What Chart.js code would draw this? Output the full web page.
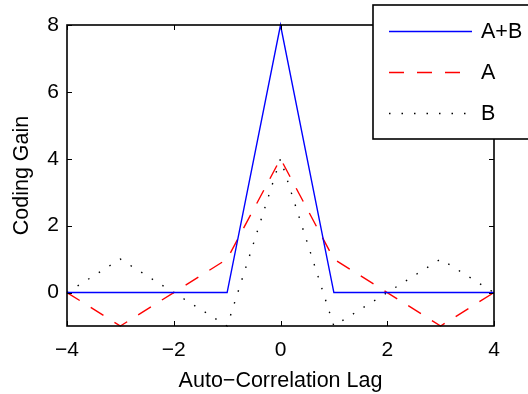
<!DOCTYPE html>
<html>
<head>
<meta charset="utf-8">
<script src="https://cdn.jsdelivr.net/npm/chart.js@4/dist/chart.umd.min.js"></script>
<style>
  html, body { margin: 0; padding: 0; background: #fff; }
  #wrap { width: 528px; height: 394px; }
</style>
</head>
<body>
<div id="wrap"><canvas id="myChart" width="528" height="394"></canvas></div>
<script>
  const lags = [-4, -3, -2, -1, 0, 1, 2, 3, 4];
  const gainSum = [0, 0, 0, 0, 8, 0, 0, 0, 0];
  const gainA = [0, -1, 0, 1, 4, 1, 0, -1, 0];
  const gainB = [0, 1, 0, -1, 4, -1, 0, 1, 0];
  const xTicks = [-4, -2, 0, 2, 4];
  const yTicks = [0, 2, 4, 6, 8];

  const FONT = 'Liberation Sans, Arial, Helvetica, sans-serif';
  const minus = v => String(v).replace('-', '\u2212');
  const pts = ys => lags.map((x, i) => ({ x: x, y: ys[i] }));

  // box round the axes, with inward tick marks on all four sides
  const frame = {
    id: 'frame',
    afterDatasetsDraw(chart) {
      const { ctx, chartArea: a, scales } = chart;
      ctx.save();
      ctx.strokeStyle = '#000';
      ctx.lineWidth = 1.6;
      ctx.strokeRect(a.left, a.top, a.right - a.left, a.bottom - a.top);
      ctx.lineWidth = 1;
      ctx.beginPath();
      xTicks.forEach(v => {
        const px = Math.round(scales.x.getPixelForValue(v)) + 0.5;
        ctx.moveTo(px, a.bottom); ctx.lineTo(px, a.bottom - 5);
        ctx.moveTo(px, a.top); ctx.lineTo(px, a.top + 5);
      });
      yTicks.forEach(v => {
        const py = Math.round(scales.y.getPixelForValue(v)) + 0.5;
        ctx.moveTo(a.left, py); ctx.lineTo(a.left + 5, py);
        ctx.moveTo(a.right, py); ctx.lineTo(a.right - 5, py);
      });
      ctx.stroke();
      ctx.restore();
    }
  };

  // legend box in the top right corner
  const boxLegend = {
    id: 'boxLegend',
    afterDraw(chart) {
      const ctx = chart.ctx;
      const x0 = 373, y0 = 5, w = 180, h = 134;
      ctx.save();
      ctx.fillStyle = '#fff';
      ctx.fillRect(x0, y0, w, h);
      ctx.strokeStyle = '#000';
      ctx.lineWidth = 1.6;
      ctx.strokeRect(x0, y0, w, h);
      const rows = [31, 72, 113];
      chart.data.datasets.forEach((ds, i) => {
        const y = rows[i] + 0.5;
        ctx.strokeStyle = ds.borderColor;
        ctx.lineWidth = ds.borderWidth;
        ctx.setLineDash(ds.borderDash || []);
        ctx.beginPath();
        ctx.moveTo(389, y);
        ctx.lineTo(472, y);
        ctx.stroke();
        ctx.setLineDash([]);
        ctx.fillStyle = '#000';
        ctx.font = '21.5px ' + FONT;
        ctx.textBaseline = 'middle';
        ctx.textAlign = 'left';
        ctx.fillText(ds.label, 481, rows[i] + 1);
      });
      ctx.restore();
    }
  };

  new Chart(document.getElementById('myChart'), {
    type: 'line',
    data: {
      datasets: [{
        label: 'A+B',
        data: pts(gainSum),
        borderColor: '#0000ff',
        borderWidth: 1.4,
      }, {
        label: 'A',
        data: pts(gainA),
        borderColor: '#ff0000',
        borderWidth: 1.4,
        borderDash: [15, 13],
      }, {
        label: 'B',
        data: pts(gainB),
        borderColor: '#000000',
        borderWidth: 1.4,
        borderDash: [1.5, 11],
      }]
    },
    options: {
      responsive: false,
      animation: false,
      clip: false,
      elements: {
        point: { radius: 0 },
        line: { tension: 0, fill: false }
      },
      layout: {
        padding: { top: 25, right: 34, left: 0, bottom: 0 }
      },
      plugins: {
        legend: { display: false },
        tooltip: { enabled: false }
      },
      scales: {
        x: {
          type: 'linear',
          min: -4,
          max: 4,
          afterFit(s) { s.height = 68; },
          afterBuildTicks(s) { s.ticks = xTicks.map(v => ({ value: v })); },
          grid: { display: false, drawTicks: false },
          border: { display: false },
          ticks: {
            color: '#000',
            padding: 12,
            maxRotation: 0,
            font: { family: FONT, size: 21 },
            callback: v => minus(v)
          },
          title: {
            display: true,
            text: 'Auto\u2212Correlation Lag',
            color: '#000',
            padding: { top: 4, bottom: 0 },
            font: { family: FONT, size: 21.5 }
          }
        },
        y: {
          min: -1,
          max: 8,
          afterFit(s) { s.width = 67; },
          afterBuildTicks(s) { s.ticks = yTicks.map(v => ({ value: v })); },
          grid: { display: false, drawTicks: false },
          border: { display: false },
          ticks: {
            color: '#000',
            padding: 8,
            font: { family: FONT, size: 21 },
            callback: v => minus(v)
          },
          title: {
            display: true,
            text: 'Coding Gain',
            color: '#000',
            padding: { top: 9, bottom: 0 },
            font: { family: FONT, size: 21.5 }
          }
        }
      }
    },
    plugins: [frame, boxLegend]
  });
</script>
</body>
</html>
